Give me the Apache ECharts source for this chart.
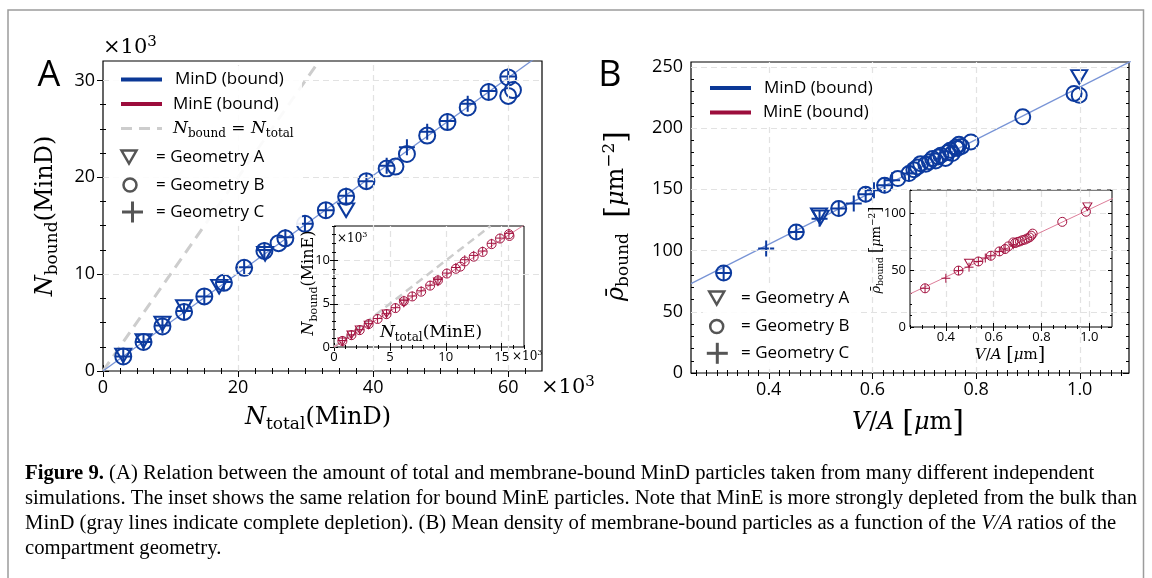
<!DOCTYPE html>
<html><head><meta charset="utf-8">
<script src="https://cdn.jsdelivr.net/npm/echarts@6/dist/echarts.min.js"></script>
<style>html,body{margin:0;padding:0;background:#fff}#c{width:1152px;height:578px}</style>
</head><body><div id="c"></div>
<script>
// ================= DATA =================
// Panel A (MinD), values in units of 10^3
const A_geoA_x = [3, 6, 8.8, 12, 17.2, 24, 36];
const A_geoA_y = [1.6, 3.1, 4.9, 6.6, 8.7, 12.1, 16.6];
const A_geoB_x = [3, 6, 8.8, 12, 15, 17.9, 20.9, 23.9, 26, 27, 29.9, 33, 36, 39, 42, 43.3, 45, 48, 51, 54, 57.1, 60, 60.7, 60];
const A_geoB_y = [1.5, 3.0, 4.6, 6.1, 7.7, 9.1, 10.65, 12.4, 13.2, 13.7, 15.2, 16.6, 18.0, 19.6, 20.9, 21.1, 22.4, 24.3, 25.7, 27.2, 28.8, 30.3, 29.0, 28.4];
const A_geoC_x = [3, 6, 8.8, 12, 15, 17.9, 20.9, 23.9, 27, 29.9, 33, 36, 39, 42, 45, 48, 51, 54, 57.1, 60];
const A_geoC_y = [1.5, 3.0, 4.7, 6.2, 7.7, 9.2, 10.7, 12.5, 13.8, 15.2, 16.6, 18.1, 19.6, 21.2, 23.1, 24.7, 25.8, 27.6, 28.9, 30.4];
const A_fit_x = [0, 65];
const A_fit_y = [0, 32.8];
const A_ident_x = [0, 32];
const A_ident_y = [0, 32];

// Inset A (MinE), units of 10^3
const E_geoA_x = [0.75, 1.56, 2.3, 3.1, 4.7, 6.25, 9.3];
const E_geoA_y = [0.6, 1.4, 2.0, 2.55, 3.85, 5.1, 7.55];
const E_geoB_x = [0.75, 1.56, 2.3, 3.1, 3.9, 4.7, 5.5, 6.25, 7.0, 7.8, 8.6, 9.3, 10.1, 10.9, 11.3, 11.7, 12.5, 13.3, 14.1, 14.85, 15.65, 15.7];
const E_geoB_y = [0.7, 1.37, 1.95, 2.65, 3.24, 3.8, 4.5, 5.3, 5.85, 6.4, 7.1, 7.7, 8.5, 9.05, 9.3, 9.9, 10.45, 11.0, 11.9, 12.55, 13.05, 12.85];
const E_geoC_x = [0.75, 1.56, 2.3, 3.1, 3.9, 4.7, 5.5, 6.25, 7.0, 7.8, 8.6, 9.3, 10.1, 10.9, 11.7, 12.5, 13.3, 14.1, 14.85, 15.65];
const E_geoC_y = [0.75, 1.4, 2.0, 2.7, 3.3, 3.85, 4.55, 5.4, 5.9, 6.5, 7.15, 7.8, 8.55, 9.2, 10.1, 10.6, 11.1, 12.0, 12.6, 13.15];
const E_fit_x = [0, 17];
const E_fit_y = [0, 14.1];
const E_ident_x = [0, 14];
const E_ident_y = [0, 14];

// Panel B (MinD density vs V/A)
const B_geoA_x = [0.497, 0.5, 0.999];
const B_geoA_y = [128.8, 127, 241.8];
const B_geoB_x = [0.313, 0.453, 0.535, 0.587, 0.6235, 0.649, 0.6705, 0.68, 0.687, 0.693, 0.703, 0.71, 0.716, 0.722, 0.727, 0.732, 0.741, 0.745, 0.75, 0.754, 0.761, 0.764, 0.767, 0.772, 0.79, 0.89, 0.989, 0.999];
const B_geoB_y = [81.7, 115.2, 134.3, 146, 153.3, 158.8, 162.9, 166, 168.3, 171, 170.5, 172.5, 175.2, 173.2, 176.5, 177.9, 175.2, 180, 182, 179.2, 184.6, 183.3, 186.8, 185, 188.7, 209.2, 228.3, 226.9];
const B_geoC_x = [0.313, 0.395, 0.453, 0.498, 0.535, 0.564, 0.587, 0.603, 0.6235, 0.638, 0.6705];
const B_geoC_y = [81.7, 101.6, 115.2, 126, 134.3, 138.4, 146, 149.3, 153.3, 157.4, 162.9];
const B_fit_x = [0.25, 1.1];
const B_fit_y = [73.0, 254.9];

// Inset B (MinE density)
const Bi_geoA_x = [0.497, 0.992];
const Bi_geoA_y = [56, 105.4];
const Bi_geoB_x = [0.313, 0.453, 0.536, 0.588, 0.624, 0.648, 0.661, 0.682, 0.69, 0.70, 0.71, 0.72, 0.73, 0.74, 0.75, 0.757, 0.763, 0.887, 0.986];
const Bi_geoB_y = [33.9, 49.4, 57.4, 62.4, 66.2, 68.3, 70.6, 74.1, 73.5, 74.5, 75.0, 76.0, 76.5, 77.5, 78.5, 80.0, 81.8, 92.1, 101];
const Bi_geoC_x = [0.313, 0.4, 0.453, 0.497, 0.536, 0.565, 0.588, 0.624, 0.648, 0.682];
const Bi_geoC_y = [33.9, 42.7, 49.4, 52.4, 57.4, 60.4, 62.4, 66.2, 68.3, 72];
const Bi_fit_x = [0.25, 1.1];
const Bi_fit_y = [29.0, 112.9];

// Axis ranges and tick labels
const A_xRange = [0, 65], A_yRange = [0, 32];
const A_xTicks = [0, 20, 40, 60], A_yTicks = [0, 10, 20, 30];
const Ai_xRange = [0, 17], Ai_yRange = [0, 14];
const Ai_xTicks = [0, 5, 10, 15], Ai_yTicks = [0, 5, 10];
const B_xRange = [0.25, 1.095], B_yRange = [0, 254];
const B_xTicks = [0.4, 0.6, 0.8, 1.0], B_yTicks = [0, 50, 100, 150, 200, 250];
const Bi_xRange = [0.25, 1.095], Bi_yRange = [0, 120];
const Bi_xTicks = [0.4, 0.6, 0.8, 1.0], Bi_yTicks = [0, 50, 100];

// ================= STYLE =================
const SANS = '"Open Sans", "DejaVu Sans", sans-serif';
const SERIF = '"DejaVu Serif", serif';
const CAPF = '"Liberation Serif", serif';
const BLUE = '#0c3a9e', BLUE_FIT = '#7894d6', BLUE_LEG = '#0b3896';
const RED = '#a3113f', RED_FIT = '#dc7c98', RED_LEG = '#9c0d3c';
const GRAY_ID = '#cdcdcd', LEG_GRAY = '#555';

function pairs(xs, ys) { return xs.map((x, i) => [x, ys[i]]); }
function minorTicks(a, b, step, majors) {
  const out = []; const n = Math.round((b - a) / step);
  for (let i = 0; i <= n; i++) {
    const v = +(a + i * step).toFixed(6);
    if (!majors.some(m => Math.abs(m - v) < 1e-9)) out.push(v);
  }
  return out;
}

const grids = [], xAxes = [], yAxes = [], series = [];
function axis(gi, pos, range, ticks, len, showLabel, o, fmt) {
  const lab = {show: showLabel, customValues: ticks, margin: o.margin, fontSize: o.fs, fontFamily: SANS, color: '#000'};
  if (fmt) lab.formatter = fmt;
  return {type: 'value', gridIndex: gi, position: pos, min: range[0], max: range[1], z: o.z,
    axisLine: {show: false},
    axisTick: {show: true, inside: true, length: len, customValues: ticks, lineStyle: {color: '#000', width: 1}},
    axisLabel: lab,
    splitLine: {show: false},
    minorTick: {show: false}, minorSplitLine: {show: false}};
}
function addGrid(rect, xr, yr, xMaj, xMin, yMaj, yMin, o) {
  const gi = grids.length;
  grids.push(Object.assign({show: true, borderColor: '#000', borderWidth: o.bw, backgroundColor: o.bg, z: o.z - 1, outerBoundsMode: 'none', containLabel: false}, rect));
  const xi = xAxes.length, yi = yAxes.length;
  ['bottom', 'top'].forEach((p, k) => {
    xAxes.push(axis(gi, p, xr, xMaj, o.maj, k === 0, o, o.xfmt));
    xAxes.push(axis(gi, p, xr, xMin, o.min, false, o));
  });
  ['left', 'right'].forEach((p, k) => {
    yAxes.push(axis(gi, p, yr, yMaj, o.maj, k === 0, o, o.yfmt));
    yAxes.push(axis(gi, p, yr, yMin, o.min, false, o));
  });
  const ax = {x: xi, y: yi};
  // dashed grid lines at the major ticks (inside the plot only)
  const ml = [];
  xMaj.forEach(v => { if (v > xr[0] && v < xr[1]) ml.push({xAxis: v}); });
  yMaj.forEach(v => { if (v > yr[0] && v < yr[1]) ml.push({yAxis: v}); });
  series.push({type: 'line', xAxisIndex: ax.x, yAxisIndex: ax.y, data: [], z: o.z, silent: true,
    markLine: {silent: true, symbol: ['none', 'none'], label: {show: false}, animation: false,
      emphasis: {disabled: true},
      lineStyle: {color: '#e2e2e2', width: 1.2, type: [6, 4]}, data: ml}});
  return ax;
}

const PLUS = 'path://M0,5L10,5M5,0L5,10';
function scat(ax, xs, ys, kind, size, color, bw, z) {
  const s = {type: 'scatter', xAxisIndex: ax.x, yAxisIndex: ax.y, data: pairs(xs, ys), z: z, silent: true,
    symbolSize: size, itemStyle: {color: 'rgba(0,0,0,0)', borderColor: color, borderWidth: bw, opacity: 1}};
  if (kind === 'circle') s.symbol = 'circle';
  if (kind === 'plus') s.symbol = PLUS;
  if (kind === 'tri') { s.symbol = 'triangle'; s.symbolRotate = 180; s.symbolSize = [size, size * 0.85]; }
  series.push(s);
}
function line(ax, xs, ys, color, width, dash, z) {
  series.push({type: 'line', xAxisIndex: ax.x, yAxisIndex: ax.y, data: pairs(xs, ys), showSymbol: false, symbol: 'none',
    lineStyle: {color: color, width: width, type: dash || 'solid'}, silent: true, z: z, clip: true});
}

// ---- Panel A main ----
const gA = addGrid({left: 103, top: 61, width: 439, height: 310}, A_xRange, A_yRange,
  A_xTicks, minorTicks(0, 62.5, 2.5, A_xTicks), A_yTicks, minorTicks(0, 30, 2.5, A_yTicks),
  {bw: 1.2, bg: 'transparent', z: 1, maj: 6, min: 3, fs: 18, margin: 8});
line(gA, A_ident_x, A_ident_y, GRAY_ID, 3, [11, 7], 2);
line(gA, A_fit_x, A_fit_y, BLUE_FIT, 1.3, null, 2);
scat(gA, A_geoA_x, A_geoA_y, 'tri', 16, BLUE, 2, 3);
scat(gA, A_geoB_x, A_geoB_y, 'circle', 16, BLUE, 2, 3);
scat(gA, A_geoC_x, A_geoC_y, 'plus', 16, BLUE, 2, 3);

// ---- Panel A inset ----
const gAi = addGrid({left: 334, top: 226, width: 190, height: 121}, Ai_xRange, Ai_yRange,
  Ai_xTicks, minorTicks(0, 17, 1, Ai_xTicks), Ai_yTicks, minorTicks(0, 14, 1, Ai_yTicks),
  {bw: 1, bg: '#fff', z: 6, maj: 4, min: 2, fs: 13, margin: 4});
line(gAi, E_ident_x, E_ident_y, GRAY_ID, 2.5, [8, 5], 7);
line(gAi, E_fit_x, E_fit_y, RED_FIT, 1, null, 7);
scat(gAi, E_geoA_x, E_geoA_y, 'tri', 9, RED, 1, 8);
scat(gAi, E_geoB_x, E_geoB_y, 'circle', 9, RED, 1, 8);
scat(gAi, E_geoC_x, E_geoC_y, 'plus', 9, RED, 1, 8);

// ---- Panel B main ----
const gB = addGrid({left: 691, top: 62, width: 438, height: 311}, B_xRange, B_yRange,
  B_xTicks, minorTicks(0.26, 1.08, 0.02, B_xTicks), B_yTicks, minorTicks(0, 250, 10, B_yTicks),
  {bw: 1.2, bg: 'transparent', z: 1, maj: 6, min: 3, fs: 18, margin: 8, xfmt: v => (+v).toFixed(1)});
line(gB, B_fit_x, B_fit_y, BLUE_FIT, 1.3, null, 2);
scat(gB, B_geoA_x, B_geoA_y, 'tri', 16, BLUE, 2, 3);
scat(gB, B_geoB_x, B_geoB_y, 'circle', 15, BLUE, 2, 3);
scat(gB, B_geoC_x, B_geoC_y, 'plus', 16, BLUE, 2, 3);

// ---- Panel B inset ----
const gBi = addGrid({left: 910, top: 190, width: 202, height: 137}, Bi_xRange, Bi_yRange,
  Bi_xTicks, minorTicks(0.25, 1.05, 0.05, Bi_xTicks), Bi_yTicks, minorTicks(0, 120, 10, Bi_yTicks),
  {bw: 1, bg: '#fff', z: 6, maj: 4, min: 2, fs: 13, margin: 4, xfmt: v => (+v).toFixed(1)});
line(gBi, Bi_fit_x, Bi_fit_y, RED_FIT, 1, null, 7);
scat(gBi, Bi_geoA_x, Bi_geoA_y, 'tri', 9, RED, 1, 8);
scat(gBi, Bi_geoB_x, Bi_geoB_y, 'circle', 9, RED, 1, 8);
scat(gBi, Bi_geoC_x, Bi_geoC_y, 'plus', 9, RED, 1, 8);

// ================= TEXT / LEGENDS =================
function mrich(fs) {
  const lh = Math.round(fs * 1.3), sf = Math.round(fs * 0.7);
  return {
    i: {fontFamily: SERIF, fontStyle: 'italic', fontSize: fs, lineHeight: lh, color: '#000'},
    r: {fontFamily: SERIF, fontSize: fs, lineHeight: lh, color: '#000'},
    s: {fontFamily: SERIF, fontSize: sf, verticalAlign: 'bottom', color: '#000'},
    p: {fontFamily: SERIF, fontSize: sf, verticalAlign: 'top', color: '#000'},
    k: {fontFamily: SERIF, fontSize: Math.round(fs * 1.25), lineHeight: lh, color: '#000'}
  };
}
function T(x, y, text, rich, opts) {
  opts = opts || {};
  const el = {type: 'text', x: x, y: y, z: opts.z || 30, silent: true,
    style: {text: text, rich: rich, fill: '#000',
      align: opts.align || 'center', textAlign: opts.align || 'center',
      verticalAlign: 'middle', textVerticalAlign: 'middle'}};
  if (opts.rot) el.rotation = opts.rot;
  if (opts.font) { el.style.fontFamily = opts.font; el.style.fontSize = opts.fs; }
  if (opts.scaleX) el.scaleX = opts.scaleX;
  return el;
}
const g = [];
// figure frame
g.push({type: 'polyline', shape: {points: [[8, 600], [8, 10], [1143.5, 10], [1143.5, 600]]}, style: {stroke: '#9c9c9c', lineWidth: 1.5, fill: 'none'}, z: 0, silent: true});
// panel letters
g.push(T(49, 76, 'A', null, {font: SANS, fs: 36}));
g.push(T(610, 76, 'B', null, {font: SANS, fs: 36}));

// axis titles
g.push(T(46, 216, '{i|N}{s|bound}{r|(MinD)}', mrich(24), {rot: Math.PI / 2}));
g.push(T(318, 418, '{i|N}{s|total}{r|(MinD)}', mrich(24)));
g.push(T(103, 48, '{r|×10}{p|3}', mrich(21), {align: 'left'}));
g.push(T(541, 388, '{r|×10}{p|3}', mrich(21), {align: 'left'}));
g.push(T(309, 283, '{i|N}{s|bound}{r|(MinE)}', mrich(16), {rot: Math.PI / 2}));
g.push(T(431, 333, '{i|N}{s|total}{r|(MinE)}', mrich(17), {z: 40}));
g.push(T(337, 239, '{r|×10}{p|3}', mrich(12), {align: 'left', z: 40}));
g.push(T(512, 357, '{r|×10}{p|3}', mrich(12), {align: 'left'}));

g.push(T(617, 216, '{i|ρ̄}{s|bound}{r|  }{k|[}{i|μ}{r|m}{p|−2}{k|]}', mrich(24), {rot: Math.PI / 2}));
g.push(T(908, 423, '{i|V}{r|/}{i|A}{r| }{k|[}{i|μ}{r|m}{k|]}', mrich(24)));
g.push(T(877, 250, '{i|ρ̄}{s|bound}{r| }{k|[}{i|μ}{r|m}{p|−2}{k|]}', mrich(13), {rot: Math.PI / 2}));
g.push(T(1010, 355, '{i|V}{r|/}{i|A}{r| }{k|[}{i|μ}{r|m}{k|]}', mrich(15)));

// legend helper
function legLine(x1, x2, y, color, w, dash) {
  return {type: 'line', shape: {x1: x1, y1: y, x2: x2, y2: y}, style: {stroke: color, lineWidth: w, lineDash: dash || null}, z: 21, silent: true};
}
function legTri(cx, cy) {
  return {type: 'polygon', shape: {points: [[cx - 7.5, cy - 6.5], [cx + 7.5, cy - 6.5], [cx, cy + 6.5]]}, style: {stroke: LEG_GRAY, lineWidth: 2.5, fill: 'none'}, z: 21, silent: true};
}
function legCirc(cx, cy) {
  return {type: 'circle', shape: {cx: cx, cy: cy, r: 6.5}, style: {stroke: LEG_GRAY, lineWidth: 2.5, fill: 'none'}, z: 21, silent: true};
}
function legPlus(cx, cy) {
  return [legLine(cx - 10.5, cx + 10.5, cy, LEG_GRAY, 3), {type: 'line', shape: {x1: cx, y1: cy - 10.5, x2: cx, y2: cy + 10.5}, style: {stroke: LEG_GRAY, lineWidth: 3}, z: 21, silent: true}];
}
function legText(x, y, t) { return T(x, y, t, null, {align: 'left', font: SANS, fs: 17, z: 22}); }
function legBox(x, y, w, h) { return {type: 'rect', shape: {x: x, y: y, width: w, height: h}, style: {fill: 'rgba(255,255,255,0.9)'}, z: 20, silent: true}; }

// Legend A
g.push(legBox(112, 66, 190, 160));
g.push(legLine(121, 162, 79.5, BLUE_LEG, 4));
g.push(legText(175, 79.5, 'MinD (bound)'));
g.push(legLine(121, 162, 104, RED_LEG, 4));
g.push(legText(173, 104, 'MinE (bound)'));
g.push(legLine(121, 162, 128.5, GRAY_ID, 3, [11, 7]));
g.push(T(173, 128.5, '{i|N}{s|bound}{r| = }{i|N}{s|total}', mrich(17), {align: 'left', z: 22}));
g.push(legTri(129, 157));
g.push(legText(156, 157, '= Geometry A'));
g.push(legCirc(130, 185));
g.push(legText(156, 185, '= Geometry B'));
legPlus(132.5, 212).forEach(e => g.push(e));
g.push(legText(156, 212, '= Geometry C'));

// Legend B
g.push(legBox(700, 73, 195, 53));
g.push(legLine(710, 751, 88, BLUE_LEG, 4));
g.push(legText(764, 88, 'MinD (bound)'));
g.push(legLine(710, 751, 112.5, RED_LEG, 4));
g.push(legText(763, 112.5, 'MinE (bound)'));
g.push(legBox(703, 285, 157, 84));
g.push(legTri(716.7, 298));
g.push(legText(741, 298, '= Geometry A'));
g.push(legCirc(716.7, 326.5));
g.push(legText(741, 326.5, '= Geometry B'));
legPlus(717.3, 353.3).forEach(e => g.push(e));
g.push(legText(741, 353.3, '= Geometry C'));

// Caption
const CAPFS = 20.5;
const captionLines = [
  [['b', 'Figure 9.'], ['n', ' (A) Relation between the amount of total and membrane-bound MinD particles taken from many different independent']],
  [['n', 'simulations. The inset shows the same relation for bound MinE particles. Note that MinE is more strongly depleted from the bulk than']],
  [['n', 'MinD (gray lines indicate complete depletion). (B) Mean density of membrane-bound particles as a function of the '], ['it', 'V/A'], ['n', ' ratios of the']],
  [['n', 'compartment geometry.']]
];
const capFonts = {b: 'bold ' + CAPFS + 'px ' + CAPF, n: CAPFS + 'px ' + CAPF, it: 'italic ' + CAPFS + 'px ' + CAPF};
const ctx = document.createElement('canvas').getContext('2d');
function measure(lineParts) { return lineParts.reduce((s, p) => { ctx.font = capFonts[p[0]]; return s + ctx.measureText(p[1]).width; }, 0); }
const capScale = 1112 / measure(captionLines[1]);
const capRich = {b: {fontFamily: CAPF, fontWeight: 'bold', fontSize: CAPFS, color: '#111'},
  n: {fontFamily: CAPF, fontSize: CAPFS, color: '#111'}, it: {fontFamily: CAPF, fontStyle: 'italic', fontSize: CAPFS, color: '#111'}};
captionLines.forEach((parts, i) => {
  const txt = parts.map(p => '{' + p[0] + '|' + p[1] + '}').join('');
  g.push(T(25, 474 + i * 25, txt, capRich, {align: 'left', scaleX: capScale}));
});

const chart = echarts.init(document.getElementById('c'), null, {renderer: 'canvas', width: 1152, height: 578});
chart.setOption({
  animation: false,
  backgroundColor: '#fff',
  grid: grids,
  xAxis: xAxes,
  yAxis: yAxes,
  series: series,
  graphic: {elements: g}
});
</script>
</body></html>
